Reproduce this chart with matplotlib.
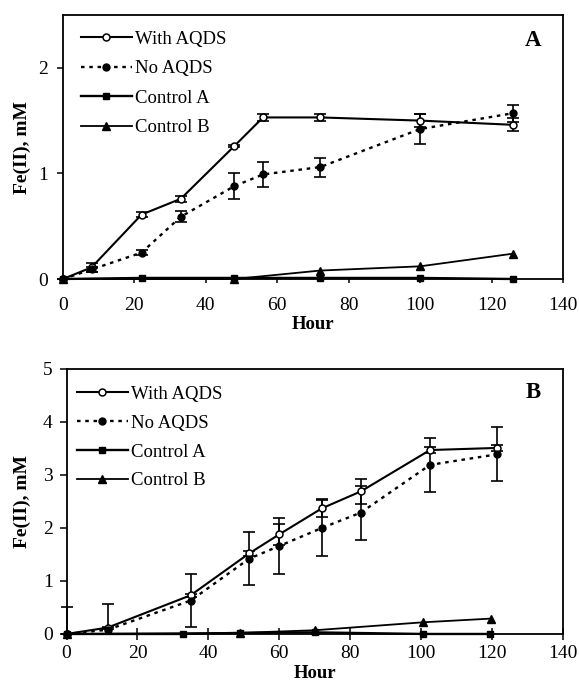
import matplotlib.pyplot as plt
import numpy as np

plt.rcParams['font.family'] = ['Liberation Serif', 'DejaVu Serif']

# ---- panel A ----
hours_a = [0, 8, 22, 33, 48, 56, 72, 100, 126]
with_a = [0, 0.11, 0.61, 0.76, 1.26, 1.53, 1.53, 1.50, 1.46]
with_a_err = [0, 0.04, 0.02, 0.03, 0.01, 0.03, 0.03, 0.06, 0.06]
no_a = [0, 0.09, 0.25, 0.59, 0.88, 0.99, 1.06, 1.42, 1.57]
no_a_err = [0, 0.02, 0.02, 0.05, 0.12, 0.12, 0.09, 0.14, 0.08]
ctrl_a_hours_a = [0, 22, 48, 72, 100, 126]
ctrl_a_a = [0, 0.01, 0.01, 0.01, 0.01, 0.0]
ctrl_b_hours_a = [0, 48, 72, 100, 126]
ctrl_b_a = [0, 0.0, 0.08, 0.12, 0.24]

# ---- panel B ----
hours_b = [0, 11.6, 35, 51.5, 60, 72, 83, 102.5, 121.5]
with_b = [0, 0.12, 0.73, 1.52, 1.88, 2.37, 2.69, 3.47, 3.51]
with_b_err = [0, 0.02, 0.03, 0.05, 0.2, 0.17, 0.24, 0.05, 0.05]
no_b = [0, 0.08, 0.63, 1.42, 1.66, 2.0, 2.29, 3.19, 3.39]
no_b_err = [0.5, 0.49, 0.5, 0.5, 0.52, 0.52, 0.51, 0.51, 0.51]
ctrl_a_hours_b = [0, 32.8, 48.8, 70, 100.5, 119.5]
ctrl_a_b = [0, 0, 0.02, 0.03, 0, 0]
ctrl_b_hours_b = [0, 48.8, 70, 100.5, 119.7]
ctrl_b_b = [0, 0.02, 0.07, 0.22, 0.29]

labels = ["With AQDS", "No AQDS", "Control A", "Control B"]


def draw(ax, hours, w, w_err, n, n_err, ca_h, ca, cb_h, cb):
    w = np.array(w)
    n = np.array(n)
    w_err = np.array(w_err)
    n_err = np.array(n_err)
    ek = dict(fmt="none", ecolor="black", elinewidth=1.2, capsize=4,
              capthick=1.2, clip_on=False)
    ax.errorbar(hours, w, yerr=[np.minimum(w_err, w), w_err], **ek)
    ax.errorbar(hours, n, yerr=[np.minimum(n_err, n), n_err], **ek)
    ax.plot(hours, w, "-", color="black", lw=1.5, marker="o", ms=5,
            mfc="white", mec="black", mew=1.1, label=labels[0], clip_on=False, zorder=4)
    ax.plot(hours, n, color="black", lw=1.7, ls=(0, (1.5, 2)), marker="o", ms=5,
            mfc="black", mec="black", label=labels[1], clip_on=False, zorder=4)
    ax.plot(ca_h, ca, "-", color="black", lw=1.7, marker="s", ms=5,
            label=labels[2], clip_on=False, zorder=3)
    ax.plot(cb_h, cb, "-", color="black", lw=1.3, marker="^", ms=6,
            label=labels[3], clip_on=False, zorder=3)
    ax.set_xlim(0, 140)
    ax.set_xticks(range(0, 141, 20))
    for s in ax.spines.values():
        s.set_linewidth(1.3)
    ax.set_xlabel("Hour", fontsize=13.5, fontweight="bold")
    ax.set_ylabel("Fe(II), mM", fontsize=14, fontweight="bold")
    ax.tick_params(axis="both", labelsize=14, width=1.1)


fig = plt.figure(figsize=(5.79, 6.85), dpi=100)

ax1 = fig.add_axes([0.1088, 0.5927, 0.8636, 0.3854])
draw(ax1, hours_a, with_a, with_a_err, no_a, no_a_err,
     ctrl_a_hours_a, ctrl_a_a, ctrl_b_hours_a, ctrl_b_a)
ax1.set_ylim(0, 2.5)
ax1.set_yticks([0, 1, 2])
ax1.tick_params(axis="x", direction="out", length=3, pad=10)
ax1.tick_params(axis="y", direction="out", length=4.5, pad=6)
ax1.xaxis.set_label_coords(0.5, -0.14)
ax1.yaxis.set_label_coords(-0.064, 0.5)
ax1.text(0.94, 0.905, "A", transform=ax1.transAxes, fontsize=16.5,
         fontweight="bold", ha="center", va="center")
ax1.legend(loc="upper left", bbox_to_anchor=(0.036, 0.94), frameon=False,
           fontsize=13.5, handlelength=2.7, handletextpad=0.2, labelspacing=0.66,
           borderpad=0, borderaxespad=0, numpoints=1)

ax2 = fig.add_axes([0.1149, 0.0745, 0.8575, 0.3869])
draw(ax2, hours_b, with_b, with_b_err, no_b, no_b_err,
     ctrl_a_hours_b, ctrl_a_b, ctrl_b_hours_b, ctrl_b_b)
ax2.set_ylim(0, 5)
ax2.set_yticks(range(0, 6))
ax2.tick_params(axis="x", direction="inout", length=8, pad=4)
ax2.tick_params(axis="y", direction="out", length=5, pad=5)
ax2.xaxis.set_label_coords(0.5, -0.118)
ax2.yaxis.set_label_coords(-0.0715, 0.5)
ax2.text(0.94, 0.91, "B", transform=ax2.transAxes, fontsize=16.5,
         fontweight="bold", ha="center", va="center")
ax2.legend(loc="upper left", bbox_to_anchor=(0.021, 0.936), frameon=False,
           fontsize=13.5, handlelength=2.7, handletextpad=0.2, labelspacing=0.62,
           borderpad=0, borderaxespad=0, numpoints=1)

fig.savefig("out.png", dpi=100)
